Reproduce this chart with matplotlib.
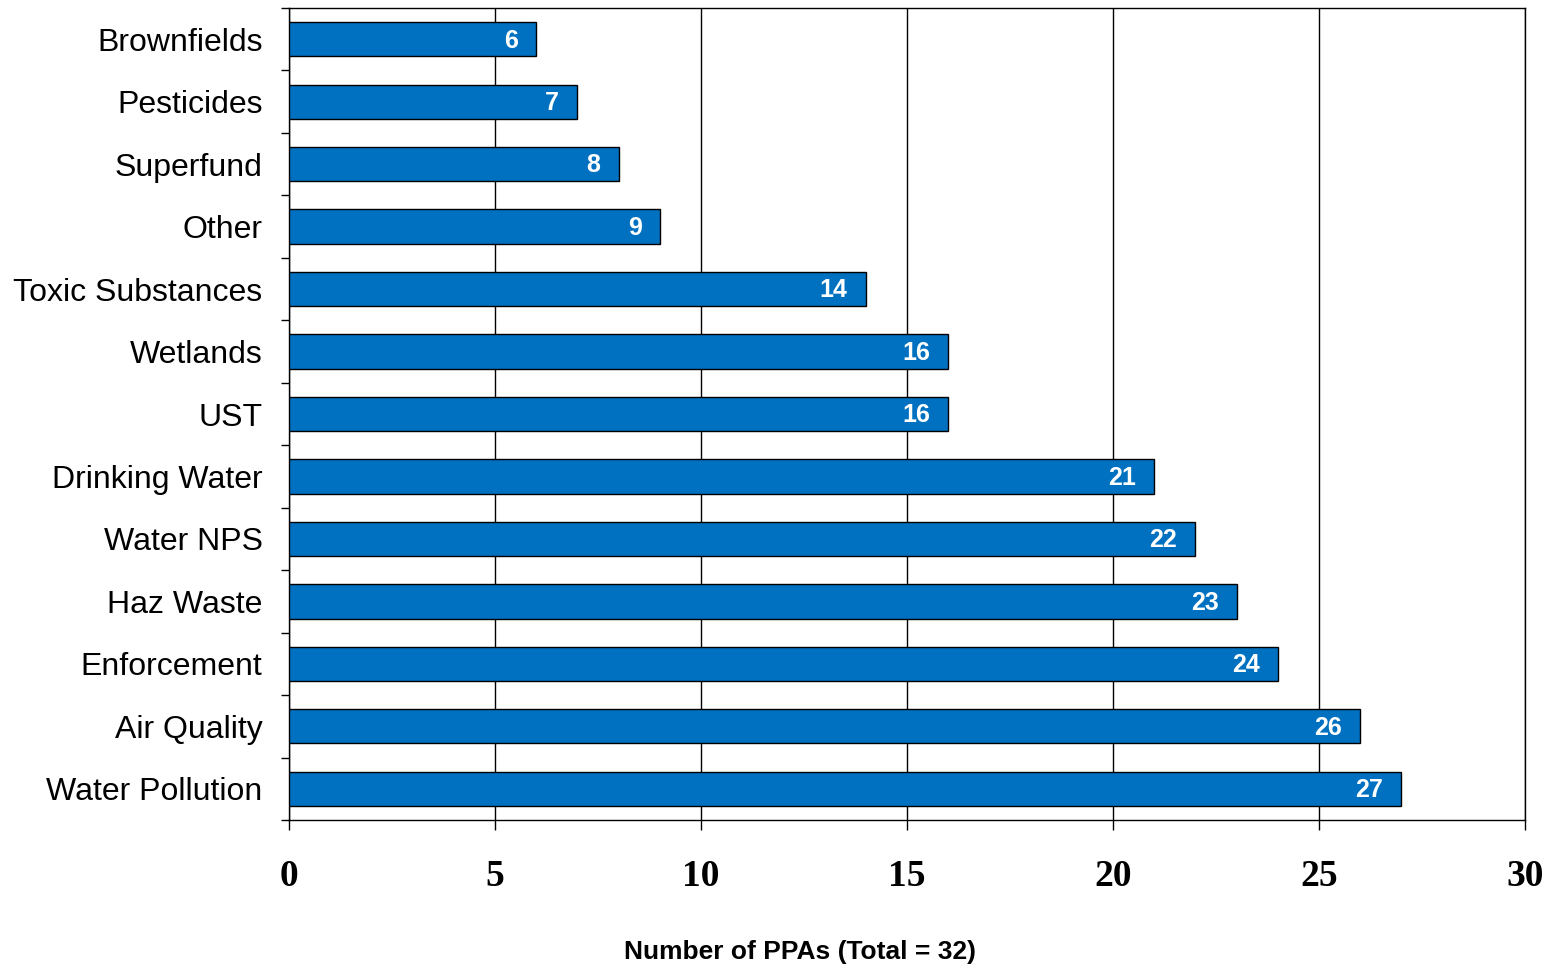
import matplotlib.pyplot as plt
import numpy as np

# Données
categories = ["Brownfields", "Pesticides", "Superfund", "Other", "Toxic Substances",
              "Wetlands", "UST", "Drinking Water", "Water NPS", "Haz Waste",
              "Enforcement", "Air Quality", "Water Pollution"]
valeurs = [6, 7, 8, 9, 14, 16, 16, 21, 22, 23, 24, 26, 27]
x_ticks = [0, 5, 10, 15, 20, 25, 30]

fig = plt.figure(figsize=(15.53, 9.66), dpi=100)
ax = fig.add_axes([289/1553, 1 - 820/966, (1525 - 289)/1553, (820 - 8)/966])

y = np.arange(len(categories))
ax.barh(y, valeurs, height=0.55, color='#0070C0', edgecolor='black', linewidth=1, zorder=3)

for yi, v in zip(y, valeurs):
    ax.annotate(str(v), xy=(v, yi), xytext=(-13, -6), textcoords='offset points',
                ha='right', va='baseline', color='white', fontweight='bold',
                fontsize=18, family='Liberation Sans', zorder=4)

ax.set_ylim(len(categories) - 0.5, -0.5)
ax.set_xlim(0, 30)

# ticks y : étiquettes au centre, petits traits entre les catégories
ax.set_yticks(y)
ax.set_yticklabels(categories, fontsize=23, family='Liberation Sans')
ax.set_yticks(np.arange(-0.5, len(categories), 1), minor=True)
ax.tick_params(axis='y', which='major', length=0, pad=19)
ax.tick_params(axis='y', which='minor', length=6, width=1, direction='out')

ax.set_xticks(x_ticks)
ax.set_xticklabels([str(t) for t in x_ticks], fontsize=27, family='Liberation Serif',
                   fontweight='bold')
ax.tick_params(axis='x', length=7, width=1, direction='out', pad=21)

ax.grid(axis='x', color='black', linewidth=1, zorder=0)
for s in ax.spines.values():
    s.set_linewidth(1)

fig.text(800/1553, 1 - 952/966, "Number of PPAs (Total = 32)", ha='center', va='center',
         fontsize=19, fontweight='bold', family='Liberation Sans')

fig.savefig('out.png', dpi=100)
